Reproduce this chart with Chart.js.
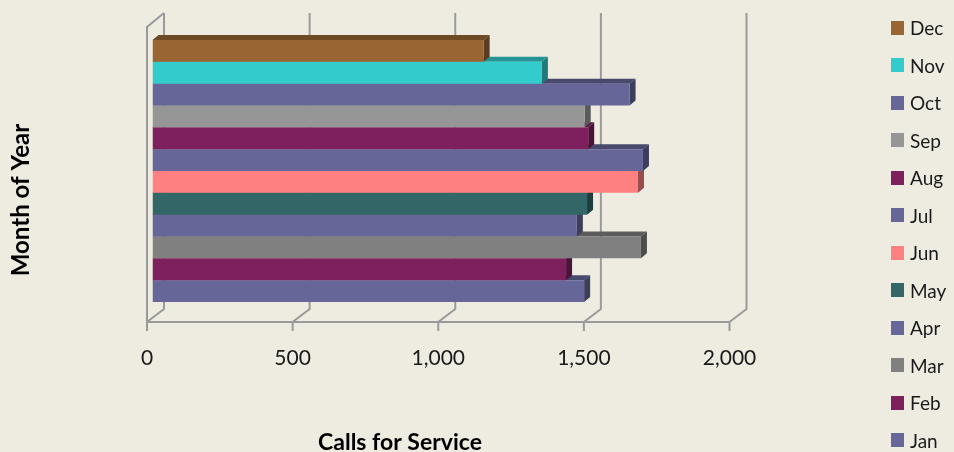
<!DOCTYPE html>
<html>
<head>
<meta charset="utf-8">
<script src="https://cdn.jsdelivr.net/npm/chart.js@4.4.1/dist/chart.umd.min.js"></script>
<style>
  html, body { margin: 0; padding: 0; background: #eeece1; }
  #wrap { position: relative; width: 954px; height: 452px; }
  #legend { position: absolute; left: 891px; top: 9px; font-family: Lato, sans-serif; font-size: 19px; color: #1a1a1a; }
  #legend .item { height: 37.5px; display: flex; align-items: center; }
  #legend .box { width: 13px; height: 14px; margin-right: 6px; }
</style>
</head>
<body>
<div id="wrap">
  <canvas id="chart"></canvas>
  <div id="legend"></div>
</div>
<script>
// Datos
const meses = ['Jan', 'Feb', 'Mar', 'Apr', 'May', 'Jun', 'Jul', 'Aug', 'Sep', 'Oct', 'Nov', 'Dec'];
const llamadas = [1482, 1420, 1677, 1457, 1492, 1667, 1684, 1496, 1484, 1638, 1337, 1137];
const ticksX = [0, 500, 1000, 1500, 2000];
const tituloX = 'Calls for Service';
const tituloY = 'Month of Year';

// Colores de cada mes (mismo orden que meses)
const colores = ['#666699', '#7e1f5e', '#808080', '#666699', '#336666', '#ff8080',
                 '#666699', '#7e1f5e', '#969696', '#666699', '#33cccc', '#996633'];
const colorMarco = '#9a9a9a';
const colorTexto = '#1a1a1a';

// profundidad 3D (px)
const FRENTE_DX = 5.5;   // plano de barras -> borde frontal
const FONDO_DX = 11.5;   // plano de barras -> pared del fondo
const PROF_DY = 13;      // caída vertical de la profundidad total
const BARRA_DX = 6, BARRA_DY = 5;

function oscurecer(hex, f) {
  const n = parseInt(hex.slice(1), 16);
  const r = Math.round(((n >> 16) & 255) * f);
  const g = Math.round(((n >> 8) & 255) * f);
  const b = Math.round((n & 255) * f);
  return `rgb(${r},${g},${b})`;
}

// Marco 3D: pared del fondo, suelo y pared izquierda
const marco3d = {
  id: 'marco3d',
  beforeDatasetsDraw(chart) {
    const { ctx, chartArea } = chart;
    const xs = chart.scales.x;
    const yFrente = chartArea.bottom;
    const yFondo = yFrente - PROF_DY;
    const yArriba = 13;
    ctx.save();
    ctx.strokeStyle = colorMarco;
    ctx.lineWidth = 2;
    ticksX.forEach(v => {
      const p = xs.getPixelForValue(v);
      const xf = p - FRENTE_DX, xb = p + FONDO_DX;
      ctx.beginPath();
      ctx.moveTo(xb, yArriba);
      ctx.lineTo(xb, yFondo);
      ctx.lineTo(xf, yFrente);
      ctx.lineTo(xf, yFrente + 9);
      ctx.stroke();
    });
    const x0f = xs.getPixelForValue(0) - FRENTE_DX;
    const x0b = xs.getPixelForValue(0) + FONDO_DX;
    const xMf = xs.getPixelForValue(ticksX[ticksX.length - 1]) - FRENTE_DX;
    ctx.beginPath();
    ctx.moveTo(x0f, yFrente);
    ctx.lineTo(xMf, yFrente);
    ctx.moveTo(x0f, yFrente);
    ctx.lineTo(x0f, yArriba + PROF_DY + 1);
    ctx.lineTo(x0b, yArriba);
    ctx.stroke();
    ctx.restore();
  },
  // caras superior y lateral de cada barra
  beforeDatasetDraw(chart, args) {
    const { ctx } = chart;
    const color = chart.data.datasets[args.index].backgroundColor;
    args.meta.data.forEach(el => {
      const { x, y, base, height } = el.getProps(['x', 'y', 'base', 'height'], true);
      const top = y - height / 2, bottom = y + height / 2;
      ctx.save();
      ctx.fillStyle = oscurecer(color, 0.72);
      ctx.beginPath();
      ctx.moveTo(base, top);
      ctx.lineTo(x, top);
      ctx.lineTo(x + BARRA_DX, top - BARRA_DY);
      ctx.lineTo(base + BARRA_DX, top - BARRA_DY);
      ctx.closePath();
      ctx.fill();
      ctx.fillStyle = oscurecer(color, 0.6);
      ctx.beginPath();
      ctx.moveTo(x, top);
      ctx.lineTo(x + BARRA_DX, top - BARRA_DY);
      ctx.lineTo(x + BARRA_DX, bottom - BARRA_DY);
      ctx.lineTo(x, bottom);
      ctx.closePath();
      ctx.fill();
      ctx.restore();
    });
  },
  // títulos de ejes
  afterDraw(chart) {
    const { ctx } = chart;
    ctx.save();
    ctx.fillStyle = '#000';
    ctx.font = 'bold 23px Lato, sans-serif';
    ctx.textAlign = 'center';
    ctx.textBaseline = 'alphabetic';
    ctx.fillText(tituloX, 400, 450);
    ctx.translate(29, 200);
    ctx.rotate(-Math.PI / 2);
    ctx.font = 'bold 24px Lato, sans-serif';
    ctx.fillText(tituloY, 0, 0);
    ctx.restore();
  }
};

// un dataset por mes, Dec arriba
const datasets = meses.map((m, i) => ({
  label: m,
  data: [llamadas[i]],
  backgroundColor: colores[i]
})).reverse();

const chart = new Chart(document.getElementById('chart'), {
  type: 'bar',
  data: { labels: [''], datasets },
  options: {
    indexAxis: 'y',
    responsive: true,
    maintainAspectRatio: false,
    animation: false,
    layout: { padding: { top: 20, left: 152.5, right: 219, bottom: 0 } },
    datasets: { bar: { categoryPercentage: 262 / 302, barPercentage: 1 } },
    plugins: { legend: { display: false }, tooltip: { enabled: false } },
    scales: {
      y: { display: false },
      x: {
        min: 0,
        max: 2000,
        grid: { display: false },
        border: { display: false },
        afterBuildTicks: s => { s.ticks = ticksX.map(v => ({ value: v })); },
        afterFit: s => { s.height = 130; },
        ticks: {
          padding: 16,
          labelOffset: -FRENTE_DX,
          color: colorTexto,
          font: { family: 'Lato, sans-serif', size: 21 },
          callback: v => v.toLocaleString('en-US')
        }
      }
    }
  },
  plugins: [marco3d]
});

// leyenda HTML
const leyenda = document.getElementById('legend');
chart.data.datasets.forEach(ds => {
  const item = document.createElement('div');
  item.className = 'item';
  item.innerHTML = `<span class="box" style="background:${ds.backgroundColor}"></span><span>${ds.label}</span>`;
  leyenda.appendChild(item);
});
</script>
</body>
</html>
